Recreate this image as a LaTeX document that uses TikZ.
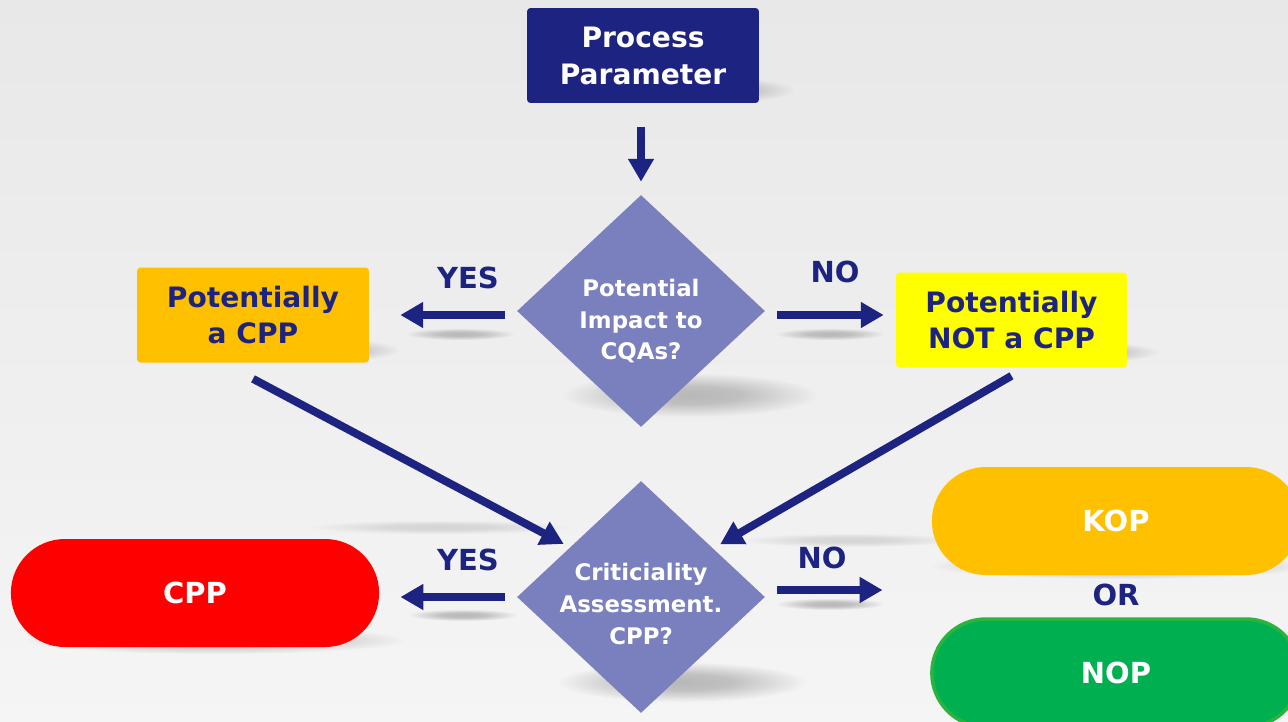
\documentclass[tikz,border=0pt]{standalone}
\usepackage{fontspec}
\setmainfont{DejaVu Sans}
\usetikzlibrary{arrows.meta,positioning,shapes.geometric,shapes.misc,fadings}
\definecolor{navy}{HTML}{1D2380}
\definecolor{lavender}{HTML}{7A80BE}
\definecolor{amber}{HTML}{FFC000}
\definecolor{lemon}{HTML}{FFFF00}
\definecolor{alarm}{HTML}{FF0000}
\definecolor{leaf}{HTML}{00B050}
\definecolor{leafedge}{HTML}{2BB33F}
% soft elliptic spot for the cast shadows
\pgfdeclareradialshading{softspotshade}{\pgfpointorigin}{color(0pt)=(white); color(10pt)=(white!85!black); color(25pt)=(black); color(50pt)=(black)}
\pgfdeclarefading{soft spot}{\pgfuseshading{softspotshade}}

\begin{document}
\begin{tikzpicture}[
    x=0.02cm, y=-0.02cm,
    box/.style={rounded corners=2pt,minimum width=4.64cm,minimum height=1.9cm,align=center,font=\fontsize{16}{21}\selectfont\bfseries},
    decision/.style={diamond,fill=lavender,inner sep=0pt,minimum width=4.96cm,minimum height=4.64cm},
    dtext/.style={text=white,align=center,font=\fontsize{13}{18.2}\selectfont\bfseries},
    pill/.style={rounded rectangle,minimum width=7.6cm,minimum height=2.16cm,text=white,font=\fontsize{16.5}{20}\selectfont\bfseries},
    arr/.style={-{Triangle[length=13pt,width=14pt]},line width=4.5pt,draw=navy},
    lbl/.style={text=navy,font=\fontsize{16.5}{20}\selectfont\bfseries},
    castshadow/.style={fill=black!28,path fading=soft spot}
]
    \useasboundingbox (0,0) rectangle (1288,721);
    \clip (0,0) rectangle (1288,721);
    \shade[top color=black!9,middle color=white,bottom color=black!4] (0,0) rectangle (1288,721);

    % shadows
    \fill[castshadow] (715,90) ellipse (80 and 13);
    \fill[castshadow] (690,395) ellipse (128 and 22);
    \fill[castshadow] (682,682) ellipse (125 and 20);
    \fill[castshadow] (320,350) ellipse (80 and 12);
    \fill[castshadow] (1075,352) ellipse (85 and 11);
    \fill[castshadow] (215,640) ellipse (190 and 14);
    \fill[castshadow] (1120,566) ellipse (190 and 13);
    \fill[castshadow] (460,334) ellipse (55 and 6);
    \fill[castshadow] (830,334) ellipse (55 and 6);
    \fill[castshadow] (463,615) ellipse (55 and 6);
    \fill[castshadow] (830,604) ellipse (55 and 6);
    \fill[castshadow,opacity=.5] (440,527) ellipse (130 and 7);
    \fill[castshadow,opacity=.5] (850,540) ellipse (110 and 7);

    \node[box,fill=navy,text=white] (proc) at (643,55.5) {Process\\Parameter};
    \node[decision,label={[dtext,yshift=-0.2cm]center:Potential\\Impact to\\CQAs?}] (impact) at (641,311) {};
    \node[box,fill=amber,text=navy] (maybe) at (253,315) {Potentially\\a CPP};
    \node[box,fill=lemon,text=navy,minimum width=4.62cm] (maybenot) at (1011.5,320) {Potentially\\NOT a CPP};
    \node[decision,label={[dtext,yshift=-0.13cm]center:Criticiality\\Assessment.\\CPP?}] (assess) at (641,597) {};
    \node[pill,fill=alarm] (cpp) at (195,593) {CPP};
    \node[pill,fill=amber] (kop) at (1116,521) {KOP};
    \node[lbl] (or) at (1116,595) {OR};
    \node[pill,fill=leaf,draw=leafedge,line width=2pt] (nop) at (1116,673) {NOP};

    \node[lbl] (yes1) at (468,278) {YES};
    \node[lbl] (no1) at (835,272) {NO};
    \node[lbl] (yes2) at (468,560) {YES};
    \node[lbl] (no2) at (822,558) {NO};

    \draw[arr,shorten <=0.48cm,shorten >=0.26cm] (proc.south -| impact.north) -- (impact.north);
    \draw[arr,shorten <=0.24cm,shorten >=0.62cm] ([yshift=-0.08cm]impact.west) -- ([yshift=-0.08cm]impact.west -| maybe.east);
    \draw[arr,shorten <=0.24cm,shorten >=0.24cm] ([yshift=-0.08cm]impact.east) -- ([yshift=-0.08cm]impact.east -| maybenot.west);
    \draw[arr,shorten >=0.14cm] ([yshift=-0.32cm]maybe.south) -- (assess.145);
    \draw[arr,shorten >=0.16cm] ([yshift=-0.16cm]maybenot.south) -- (assess.34);
    \draw[arr,shorten <=0.24cm,shorten >=0.42cm] (assess.west) -- (assess.west -| cpp.east);
    \draw[arr,shorten <=0.24cm,shorten >=0.98cm] ([yshift=0.14cm]assess.east) -- ([yshift=0.14cm]assess.east -| kop.west);
\end{tikzpicture}
\end{document}
